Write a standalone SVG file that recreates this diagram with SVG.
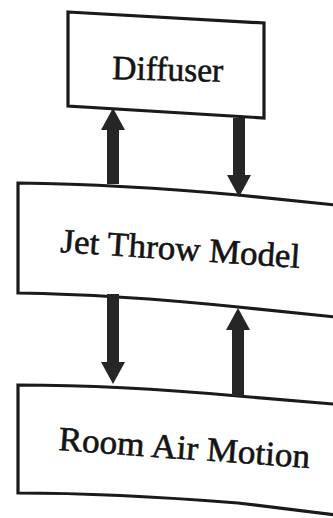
<svg xmlns="http://www.w3.org/2000/svg" width="333" height="518" viewBox="0 0 333 518">
  <style>
    .box { fill: #ffffff; stroke: #1a1a1a; stroke-width: 3.2; stroke-linejoin: miter; }
    .lbl { font-family: "Liberation Serif", "Times New Roman", serif; font-size: 34px; fill: #141414; stroke: #141414; stroke-width: 0.6; }
    .arr { stroke: #262626; stroke-width: 12; fill: none; marker-end: url(#head); }
  </style>
  <defs>
    <marker id="head" markerUnits="userSpaceOnUse" viewBox="0 0 22 24" markerWidth="22" markerHeight="24" refX="0" refY="12" orient="auto">
      <path d="M0,0 L22,12 L0,24 Z" fill="#262626"/>
    </marker>
  </defs>
  <rect width="333" height="518" fill="#ffffff"/>
  <g id="diffuser">
    <path class="box" d="M68,12 L264,23 L264,118 L68,106 Z"/>
    <text class="lbl" x="112" y="79" textLength="111" lengthAdjust="spacingAndGlyphs" transform="rotate(1.5 112 79)">Diffuser</text>
  </g>
  <g id="jet">
    <path class="box" d="M18,183 C90,184 150,187 238,195 L345,206 L345,318 L238,307 C150,298 90,294 18,293 Z"/>
    <text class="lbl" x="60" y="252" textLength="240" lengthAdjust="spacingAndGlyphs" transform="rotate(3.8 60 252)">Jet Throw Model</text>
  </g>
  <g id="room">
    <path class="box" d="M18,385 C90,385 150,388 238,396 L345,405 L345,516 L238,503 C150,496 90,493 18,493 Z"/>
    <text class="lbl" x="58" y="450" textLength="252" lengthAdjust="spacingAndGlyphs" transform="rotate(4.1 58 450)">Room Air Motion</text>
  </g>
  <g id="connectors">
    <line class="arr" x1="113" y1="184" x2="113" y2="130"/>
    <line class="arr" x1="239" y1="118" x2="239" y2="175"/>
    <line class="arr" x1="113" y1="294" x2="113" y2="362"/>
    <line class="arr" x1="238" y1="396" x2="238" y2="330"/>
  </g>
</svg>
